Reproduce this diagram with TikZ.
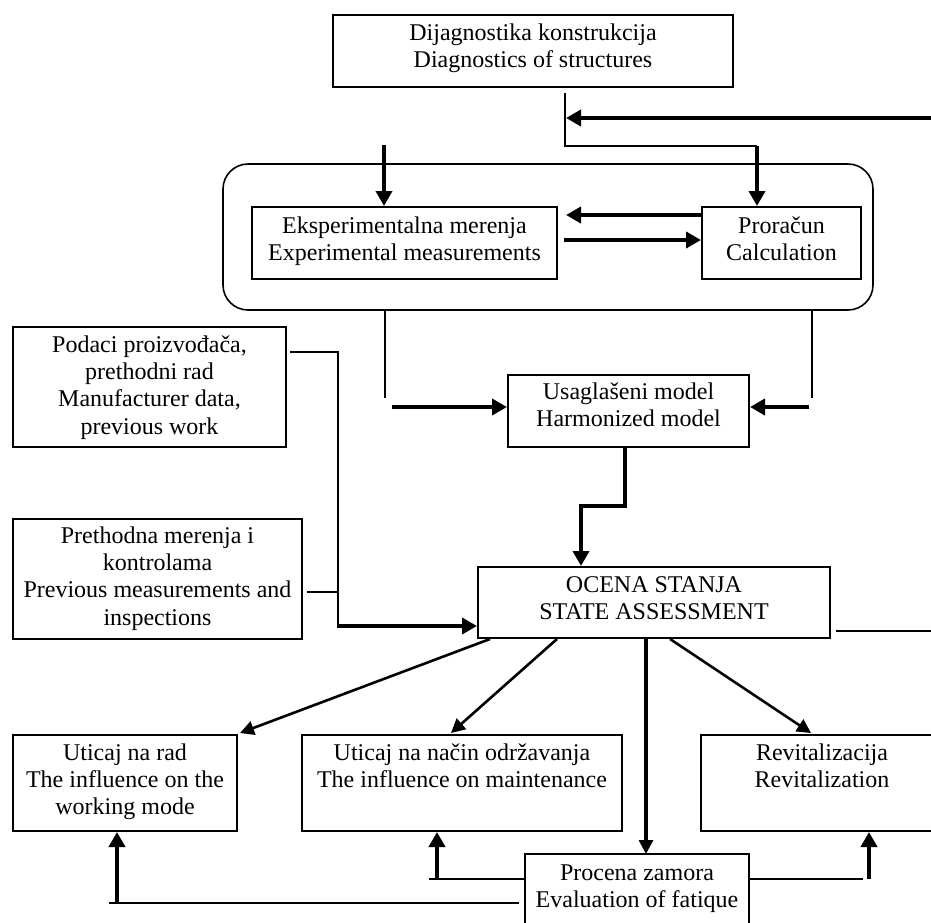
\documentclass[tikz,border=0pt]{standalone}
\usepackage{fontspec}
\setmainfont{Liberation Serif}
\usetikzlibrary{arrows.meta}
\newcommand{\fstrut}{\rule{0pt}{17pt}}
\begin{document}
\begin{tikzpicture}[x=1pt,y=-1pt,
  box/.style={draw, line width=2pt, inner sep=0pt, rectangle},
  txt/.style={anchor=north, inner sep=0pt, align=center, font=\fontsize{24}{27.3}\selectfont},
  thinl/.style={line width=1.6pt},
  arr/.style={-{Triangle[length=15pt,width=16pt]}, line width=4pt, line join=miter},
  darr/.style={-{Triangle[length=14pt,width=14pt]}, line width=2.6pt}]
\useasboundingbox (0,0) rectangle (931,922);
% group
\node[draw, line width=1.6pt, rounded corners=25pt, inner sep=0pt, minimum width=650pt, minimum height=146pt] (grp) at (548,237) {};
% boxes
\node[box, minimum width=400pt, minimum height=72pt] (diag) at (533,51) {};
\node[txt] (diagT) at (533,23) {\fstrut Dijagnostika konstrukcija\\Diagnostics of structures};
\node[box, minimum width=305pt, minimum height=72pt] (exp) at (404.5,243) {};
\node[txt] (expT) at (404.5,216) {\fstrut Eksperimentalna merenja\\Experimental measurements};
\node[box, minimum width=159pt, minimum height=72pt] (calc) at (781.5,243) {};
\node[txt] (calcT) at (781.5,216) {\fstrut Proračun\\Calculation};
\node[box, minimum width=273pt, minimum height=120pt] (podaci) at (149.5,387) {};
\node[txt] (podaciT) at (149.5,335) {\fstrut Podaci proizvođača,\\prethodni rad\\Manufacturer data,\\previous work};
\node[box, minimum width=289pt, minimum height=120pt] (preth) at (157.5,579) {};
\node[txt] (prethT) at (157.5,526) {\fstrut Prethodna merenja i\\kontrolama\\Previous measurements and\\inspections};
\node[box, minimum width=241pt, minimum height=72pt] (harm) at (628.5,411) {};
\node[txt] (harmT) at (628.5,382) {\fstrut Usaglašeni model\\Harmonized model};
\node[box, minimum width=352pt, minimum height=71pt] (state) at (654,602.5) {};
\node[txt] (stateT) at (654,575) {\fstrut OCENA STANJA\\STATE ASSESSMENT};
\node[box, minimum width=224pt, minimum height=96pt] (rad) at (125,783) {};
\node[txt] (radT) at (125,743) {\fstrut Uticaj na rad\\The influence on the\\working mode};
\node[box, minimum width=320pt, minimum height=96pt] (odr) at (462,783) {};
\node[txt] (odrT) at (462,743) {\fstrut Uticaj na način održavanja\\The influence on maintenance};
\node[box, minimum width=242pt, minimum height=96pt] (revit) at (822,783) {};
\node[txt] (revitT) at (822,743) {\fstrut Revitalizacija\\Revitalization};
\node[box, minimum width=224pt, minimum height=76pt] (proc) at (637,892) {};
\node[txt] (procT) at (637,863) {\fstrut Procena zamora\\Evaluation of fatique};
% coordinates
\coordinate (fbR) at (940,118);
\coordinate (fbL) at (566,118);
\coordinate (j1) at (565,93);
\coordinate (j2) at (757,146);
\coordinate (ein) at (384,145);
\coordinate (gl) at (385,398);
\coordinate (gl2) at (392,407);
\coordinate (gr) at (812,398);
\coordinate (gr2) at (809,407);
\coordinate (h1) at (625,506);
\coordinate (h2) at (581,506);
\coordinate (p1) at (338,352);
\coordinate (p2) at (338,626);
\coordinate (p3) at (338,592);
\coordinate (p3s) at (307,592);
\coordinate (srs) at (836,631);
\coordinate (sre) at (940,631);
\coordinate (a1) at (240,733);
\coordinate (a2) at (451,733);
\coordinate (a3) at (646,854);
\coordinate (a4) at (811,733);
\coordinate (b1) at (429,879);
\coordinate (b1u) at (437,879);
\coordinate (b2) at (863,879);
\coordinate (b2u) at (869,879);
\coordinate (b3s) at (519,903);
\coordinate (b3) at (109,903);
\coordinate (b3u) at (117,903);
% top connectors
\draw[arr] (fbR) -- (fbL);
\draw[thinl] (j1) |- (j2);
\draw[arr] (j2) -- (calc.north -| j2);
\draw[arr] (ein) -- (exp.north -| ein);
\draw[arr] ([yshift=28pt]calc.west) -- ([yshift=28pt,xshift=8pt]exp.east);
\draw[arr] ([yshift=3pt,xshift=6pt]exp.east) -- ([yshift=3pt]calc.west);
% group to harmonized
\draw[thinl] (grp.south -| gl) -- (gl);
\draw[arr] (gl2) -- (harm.west |- gl2);
\draw[thinl] (grp.south -| gr) -- (gr);
\draw[arr] (gr2) -- (harm.east |- gr2);
% harmonized to state
\draw[arr] (harm.south -| h1) -- (h1) -- (h2) -- (state.north -| h2);
% inputs
\draw[thinl] ([xshift=3pt]podaci.east |- p1) -- (p1) -- (p2);
\draw[arr] ([xshift=-1pt]p2) -- (state.west |- p2);
\draw[thinl] (p3s) -- (p3);
\draw[thinl] (srs) -- (sre);
% outputs
\draw[darr] ([xshift=-164pt]state.south) -- (a1);
\draw[darr] ([xshift=-97pt]state.south) -- (a2);
\draw[darr, line width=3.2pt] ([xshift=-8pt]state.south) -- (a3);
\draw[darr] ([xshift=16pt]state.south) -- (a4);
% fatigue feedback
\draw[thinl] (proc.west |- b1) -- (b1);
\draw[arr] (b1u) -- (odr.south -| b1u);
\draw[thinl] (proc.east |- b2) -- (b2);
\draw[arr] (b2u) -- (revit.south -| b2u);
\draw[thinl] (b3s) -- (b3);
\draw[arr] (b3u) -- (rad.south -| b3u);
\end{tikzpicture}
\end{document}
